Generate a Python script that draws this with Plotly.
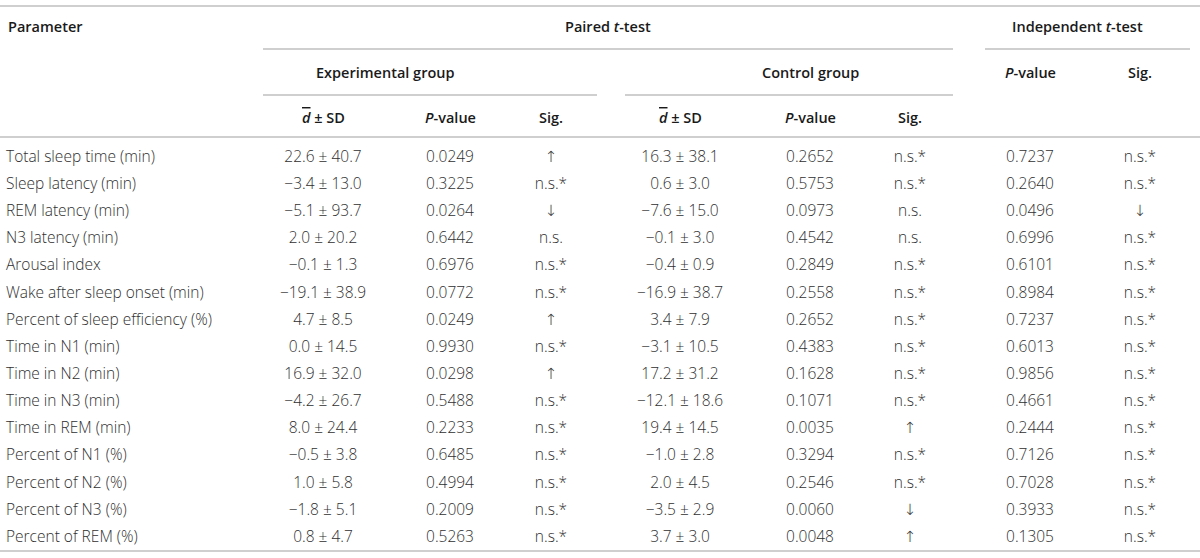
import plotly.graph_objects as go

# table values
params = ["Total sleep time (min)", "Sleep latency (min)", "REM latency (min)",
          "N3 latency (min)", "Arousal index", "Wake after sleep onset (min)",
          "Percent of sleep efficiency (%)", "Time in N1 (min)", "Time in N2 (min)",
          "Time in N3 (min)", "Time in REM (min)", "Percent of N1 (%)",
          "Percent of N2 (%)", "Percent of N3 (%)", "Percent of REM (%)"]

exp_d = ["22.6 ± 40.7", "−3.4 ± 13.0", "−5.1 ± 93.7", "2.0 ± 20.2", "−0.1 ± 1.3",
         "−19.1 ± 38.9", "4.7 ± 8.5", "0.0 ± 14.5", "16.9 ± 32.0", "−4.2 ± 26.7",
         "8.0 ± 24.4", "−0.5 ± 3.8", "1.0 ± 5.8", "−1.8 ± 5.1", "0.8 ± 4.7"]
exp_p = [0.0249, 0.3225, 0.0264, 0.6442, 0.6976, 0.0772, 0.0249, 0.9930,
         0.0298, 0.5488, 0.2233, 0.6485, 0.4994, 0.2009, 0.5263]
exp_sig = ["↑", "n.s.*", "↓", "n.s.", "n.s.*", "n.s.*", "↑", "n.s.*", "↑",
           "n.s.*", "n.s.*", "n.s.*", "n.s.*", "n.s.*", "n.s.*"]

ctrl_d = ["16.3 ± 38.1", "0.6 ± 3.0", "−7.6 ± 15.0", "−0.1 ± 3.0", "−0.4 ± 0.9",
          "−16.9 ± 38.7", "3.4 ± 7.9", "−3.1 ± 10.5", "17.2 ± 31.2", "−12.1 ± 18.6",
          "19.4 ± 14.5", "−1.0 ± 2.8", "2.0 ± 4.5", "−3.5 ± 2.9", "3.7 ± 3.0"]
ctrl_p = [0.2652, 0.5753, 0.0973, 0.4542, 0.2849, 0.2558, 0.2652, 0.4383,
          0.1628, 0.1071, 0.0035, 0.3294, 0.2546, 0.0060, 0.0048]
ctrl_sig = ["n.s.*", "n.s.*", "n.s.", "n.s.", "n.s.*", "n.s.*", "n.s.*", "n.s.*",
            "n.s.*", "n.s.*", "↑", "n.s.*", "n.s.*", "↓", "↑"]

ind_p = [0.7237, 0.2640, 0.0496, 0.6996, 0.6101, 0.8984, 0.7237, 0.6013,
         0.9856, 0.4661, 0.2444, 0.7126, 0.7028, 0.3933, 0.1305]
ind_sig = ["n.s.*", "n.s.*", "↓", "n.s.*", "n.s.*", "n.s.*", "n.s.*", "n.s.*",
           "n.s.*", "n.s.*", "n.s.*", "n.s.*", "n.s.*", "n.s.*", "n.s.*"]

W, H = 1200, 558
FONT = "Open Sans, DejaVu Sans"
BODY = "#2f2f2f"
HEAD = "#1a1a1a"
RULE = "#cfcfcf"

# row layout (pixels, y down)
row0, step = 158, 27.14
rows_y = [row0 + step * i for i in range(len(params))]

fig = go.Figure()


def col(x, texts, pos="middle center"):
    fig.add_trace(go.Scatter(
        x=[x] * len(texts), y=rows_y, text=texts, mode="text",
        textposition=pos, hoverinfo="skip", showlegend=False,
        textfont=dict(family=FONT, size=15.5, color=BODY, weight=300)))


def fmt(vals):
    return [f"{v:.4f}" for v in vals]


col(6, params, "middle right")
col(323, exp_d)
col(450, fmt(exp_p))
col(551, exp_sig)
col(680, ctrl_d)
col(810, fmt(ctrl_p))
col(910, ctrl_sig)
col(1030, fmt(ind_p))
col(1140, ind_sig)

dbar = "<i><span style='text-decoration:overline'>d</span></i> ± SD"
headers = [
    (6, 26, "Parameter", "left"),
    (608, 26, "Paired <i>t</i>-test", "center"),
    (1077, 26, "Independent <i>t</i>-test", "center"),
    (385, 72, "Experimental group", "center"),
    (810, 72, "Control group", "center"),
    (1030, 72, "<i>P</i>-value", "center"),
    (1140, 72, "Sig.", "center"),
    (323, 117, dbar, "center"),
    (450, 117, "<i>P</i>-value", "center"),
    (551, 117, "Sig.", "center"),
    (680, 117, dbar, "center"),
    (810, 117, "<i>P</i>-value", "center"),
    (910, 117, "Sig.", "center"),
]
for x, y, t, anchor in headers:
    fig.add_annotation(x=x, y=y, text=t, xanchor=anchor, yanchor="middle",
                       showarrow=False,
                       font=dict(family=FONT, size=14.5, color=HEAD, weight=600))

rules = [
    (0, 1200, 6), (263, 953, 49), (985, 1190, 49),
    (263, 597, 95), (625, 953, 95), (0, 1200, 137), (0, 1200, 551),
]
for x0, x1, y in rules:
    fig.add_shape(type="line", x0=x0, x1=x1, y0=y, y1=y,
                  line=dict(color=RULE, width=2))

fig.update_xaxes(range=[0, W], visible=False, fixedrange=True)
fig.update_yaxes(range=[H, 0], visible=False, fixedrange=True)
fig.update_layout(width=W, height=H, margin=dict(l=0, r=0, t=0, b=0),
                  plot_bgcolor="white", paper_bgcolor="white")

# drop the browser's default body margin so the table sits flush
fig.write_html("out.html", config={"displayModeBar": False},
               post_script="document.body.style.margin='0';")
